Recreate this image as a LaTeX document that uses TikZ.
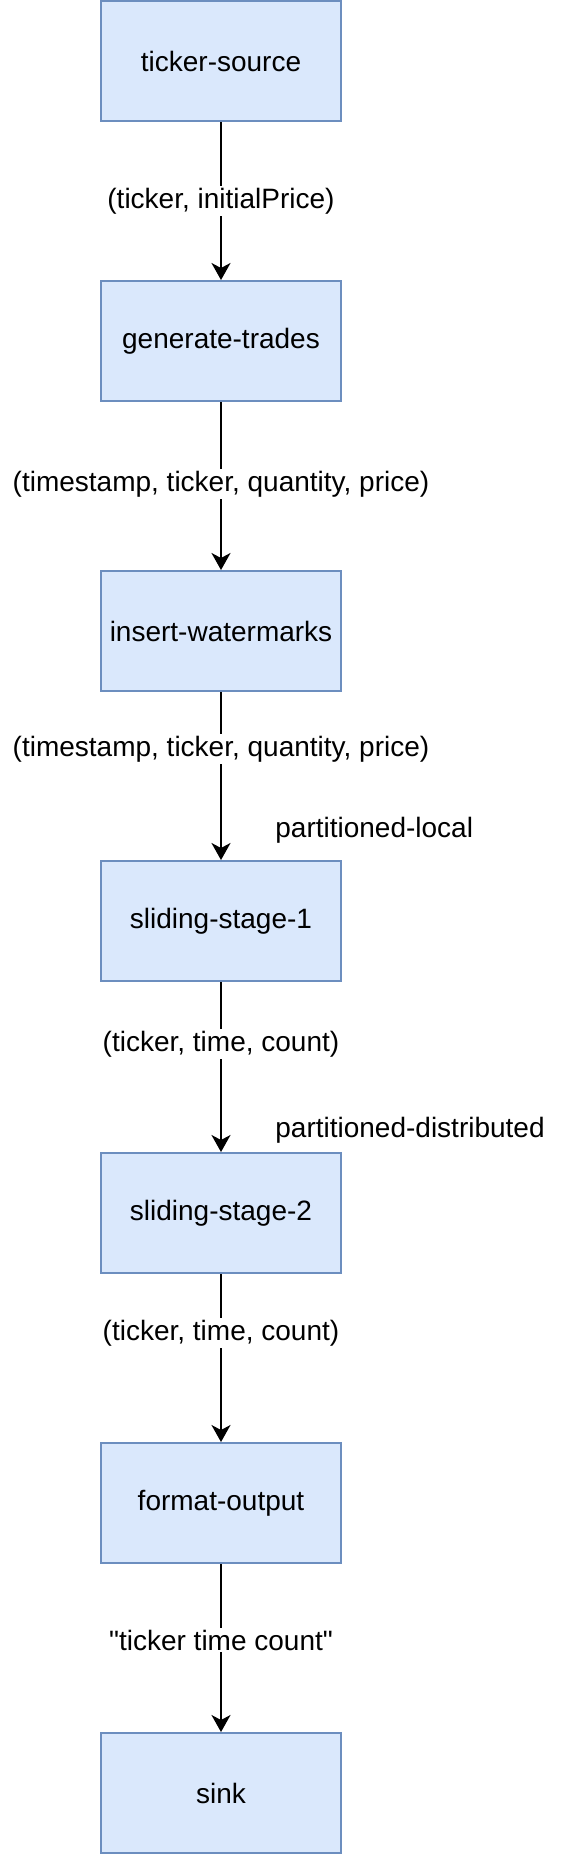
\documentclass[tikz,border=0pt]{standalone}
\usepackage{fontspec}
\setmainfont{Liberation Sans}[Ligatures=TeXOff]
\usetikzlibrary{arrows.meta}
\definecolor{boxfill}{HTML}{DAE8FC}
\definecolor{boxline}{HTML}{6C8EBF}
\tikzset{
  stagebox/.style={draw=boxline, fill=boxfill, line width=1pt, minimum width=120pt, minimum height=60pt, inner sep=0pt, font=\fontsize{14pt}{16pt}\selectfont},
  flow/.style={draw=black, line width=1pt, -{Stealth[length=8.5pt, width=9.5pt, inset=2.5pt]}},
  edgelbl/.style={fill=white, inner sep=1pt, font=\fontsize{14pt}{16pt}\selectfont},
  sidelbl/.style={anchor=west, inner sep=0pt, font=\fontsize{14pt}{16pt}\selectfont},
}
\begin{document}
\begin{tikzpicture}[x=0.5pt, y=-0.5pt]
\useasboundingbox (0,0) rectangle (572,1854);
\node[stagebox] (src) at (221,61) {ticker-source};
\node[stagebox] (gen) at (221,341) {generate-trades};
\node[stagebox] (wm) at (221,631) {insert-watermarks};
\node[stagebox] (s1) at (221,921) {sliding-stage-1};
\node[stagebox] (s2) at (221,1213) {sliding-stage-2};
\node[stagebox] (fmt) at (221,1503) {format-output};
\node[stagebox] (sink) at (221,1793) {sink};
\draw[flow] (src) -- (gen);
\draw[flow] (gen) -- (wm);
\draw[flow] (wm) -- (s1);
\draw[flow] (s1) -- (s2);
\draw[flow] (s2) -- (fmt);
\draw[flow] (fmt) -- (sink);
\node[edgelbl] (l1) at (221,201) {(ticker, initialPrice)};
\node[edgelbl] (l2) at (221,484) {(timestamp, ticker, quantity, price)};
\node[edgelbl] (l3) at (221,749) {(timestamp, ticker, quantity, price)};
\node[sidelbl] (p1) at (275,830) {partitioned-local};
\node[edgelbl] (l4) at (221,1044) {(ticker, time, count)};
\node[sidelbl] (p2) at (275,1130) {partitioned-distributed};
\node[edgelbl] (l5) at (221,1333) {(ticker, time, count)};
\node[edgelbl] (l6) at (221,1640) {"ticker time count"};
\end{tikzpicture}
\end{document}
